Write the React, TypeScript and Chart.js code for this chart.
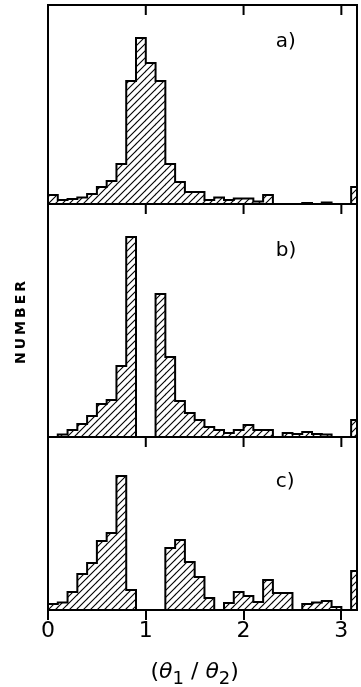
import React, { useEffect, useRef } from 'react';
import { Chart, registerables } from 'chart.js';

Chart.register(...registerables);

// ---- data ----
const BIN_CENTERS = [
  0.05, 0.15, 0.25, 0.35, 0.45, 0.55, 0.65, 0.75, 0.85, 0.95,
  1.05, 1.15, 1.25, 1.35, 1.45, 1.55, 1.65, 1.75, 1.85, 1.95,
  2.05, 2.15, 2.25, 2.35, 2.45, 2.55, 2.65, 2.75, 2.85, 2.95,
  3.05, 3.15,
];

const PANEL_A = [
  9, 4, 5, 6.5, 10, 17, 23, 40, 123, 166,
  141, 123, 40, 22, 12, 12, 4, 6.5, 4, 5.5,
  5.5, 2.5, 9, 0, 0, 0, 1, 0, 1.5, 0,
  0, 17,
];

const PANEL_B = [
  0, 2.5, 7, 13, 21, 33, 37, 71, 200, 0,
  0, 143, 80, 36, 24, 17, 10, 7, 4, 7,
  12, 7, 7, 0, 4, 3, 5, 3, 2.5, 0,
  0, 17,
];

const PANEL_C = [
  6, 7.5, 18, 36, 47, 69, 77, 134, 20, 0,
  0, 0, 62, 70, 48, 33, 12, 0, 7, 18,
  14, 8, 30, 17, 17, 0, 6, 7.5, 9, 3,
  0, 39,
];

const PANEL_MAX = [199, 233, 173];
const PANEL_LABELS = ['a)', 'b)', 'c)'];
const LABEL_X = 2.33;
const LABEL_Y = [162, 186, 128];
const X_TICKS = [0, 1, 2, 3];
const X_MAX = 3.16;
const Y_TITLE = 'NUMBER';

const FONT = '"DejaVu Sans", sans-serif';

function makeHatch(): CanvasPattern {
  const s = 7;
  const c = document.createElement('canvas');
  c.width = s;
  c.height = s;
  const g = c.getContext('2d')!;
  g.strokeStyle = '#000';
  g.lineWidth = 1.1;
  g.beginPath();
  g.moveTo(-1, s + 1);
  g.lineTo(s + 1, -1);
  g.moveTo(-1, 1);
  g.lineTo(1, -1);
  g.moveTo(s - 1, s + 1);
  g.lineTo(s + 1, s - 1);
  g.stroke();
  return g.createPattern(c, 'repeat')!;
}

const PANEL_IDS = ['ya', 'yb', 'yc'];

const framePlugin = {
  id: 'frames',
  afterDatasetsDraw(chart: any) {
    const { ctx, chartArea } = chart;
    const xs = chart.scales.x;
    const { left, right, top, bottom } = chartArea;
    ctx.save();
    ctx.strokeStyle = '#000';
    ctx.lineWidth = 2;
    ctx.lineCap = 'square';
    // outer frame
    ctx.beginPath();
    ctx.moveTo(left, top);
    ctx.lineTo(right, top);
    ctx.moveTo(right, top);
    ctx.lineTo(right, bottom);
    ctx.moveTo(left, top);
    ctx.lineTo(left, bottom);
    ctx.stroke();
    ctx.lineCap = 'butt';
    // inward ticks at top
    ctx.beginPath();
    X_TICKS.forEach((v) => {
      const px = xs.getPixelForValue(v);
      ctx.moveTo(px, top);
      ctx.lineTo(px, top + 10);
    });
    ctx.stroke();
    // panel separators with ticks hanging down
    ['ya', 'yb'].forEach((id) => {
      const s = chart.scales[id];
      const y0 = s.getPixelForValue(0);
      ctx.beginPath();
      ctx.moveTo(left, y0);
      ctx.lineTo(right, y0);
      X_TICKS.forEach((v) => {
        const px = xs.getPixelForValue(v);
        ctx.moveTo(px, y0);
        ctx.lineTo(px, y0 + 10);
      });
      ctx.stroke();
    });
    // panel labels
    ctx.fillStyle = '#000';
    ctx.font = `20px ${FONT}`;
    ctx.textAlign = 'left';
    ctx.textBaseline = 'middle';
    PANEL_IDS.forEach((id, i) => {
      const s = chart.scales[id];
      ctx.fillText(PANEL_LABELS[i], xs.getPixelForValue(LABEL_X), s.getPixelForValue(LABEL_Y[i]));
    });
    // y title
    const yb = chart.scales.yb;
    ctx.save();
    ctx.translate(left - 27, (yb.top + yb.bottom) / 2 + 2);
    ctx.rotate(-Math.PI / 2);
    ctx.font = `bold 14px ${FONT}`;
    (ctx as any).letterSpacing = '3px';
    ctx.textAlign = 'center';
    ctx.textBaseline = 'middle';
    ctx.fillText(Y_TITLE, 1.5, 0);
    ctx.restore();
    // x title: (θ1 / θ2)
    const segs = [
      { t: '(', f: `22px ${FONT}`, dy: 0 },
      { t: 'θ', f: `italic 22px ${FONT}`, dy: 0 },
      { t: '1', f: `18px ${FONT}`, dy: 6 },
      { t: ' / ', f: `22px ${FONT}`, dy: 0 },
      { t: 'θ', f: `italic 22px ${FONT}`, dy: 0 },
      { t: '2', f: `18px ${FONT}`, dy: 6 },
      { t: ')', f: `22px ${FONT}`, dy: 0 },
    ];
    let total = 0;
    const widths = segs.map((sg) => {
      ctx.font = sg.f;
      const w = ctx.measureText(sg.t).width;
      total += w;
      return w;
    });
    let cx = xs.getPixelForValue(1.5) - total / 2;
    const base = bottom + 68;
    ctx.textAlign = 'left';
    ctx.textBaseline = 'alphabetic';
    segs.forEach((sg, i) => {
      ctx.font = sg.f;
      ctx.fillText(sg.t, cx, base + sg.dy);
      cx += widths[i];
    });
    ctx.restore();
  },
};

export default function App() {
  const ref = useRef<HTMLCanvasElement>(null);

  useEffect(() => {
    document.body.style.margin = '0';
    const hatch = makeHatch();
    const series = [PANEL_A, PANEL_B, PANEL_C];
    const half = (BIN_CENTERS[1] - BIN_CENTERS[0]) / 2;
    const datasets: any[] = [];
    series.forEach((vals, i) => {
      const pts = BIN_CENTERS.map((x, k) => ({ x, y: vals[k] }));
      datasets.push({
        type: 'line',
        data: [
          { x: BIN_CENTERS[0] - half, y: vals[0] },
          ...pts,
          { x: BIN_CENTERS[BIN_CENTERS.length - 1] + half, y: vals[vals.length - 1] },
        ],
        yAxisID: PANEL_IDS[i],
        stepped: 'middle',
        borderColor: '#000',
        borderWidth: 2,
        pointRadius: 0,
        fill: false,
        order: 0,
      });
      datasets.push({
        type: 'bar',
        data: pts,
        yAxisID: PANEL_IDS[i],
        backgroundColor: hatch,
        borderWidth: 0,
        grouped: false,
        categoryPercentage: 1,
        barPercentage: 1,
        order: 1,
      });
    });

    const yScale = (i: number) => ({
      type: 'linear',
      position: 'left',
      stack: 'panels',
      stackWeight: PANEL_MAX[i],
      min: 0,
      max: PANEL_MAX[i],
      ticks: { display: false },
      grid: { display: false, drawTicks: false },
      border: { display: true, color: '#000', width: 2 },
    });

    const chart = new Chart(ref.current!, {
      type: 'bar',
      data: { datasets },
      options: {
        animation: false,
        responsive: true,
        maintainAspectRatio: false,
        devicePixelRatio: 1,
        layout: { padding: { left: 48, right: 4, top: 5, bottom: 0 } },
        plugins: { legend: { display: false }, tooltip: { enabled: false } },
        scales: {
          x: {
            type: 'linear',
            min: 0,
            max: X_MAX,
            offset: false,
            z: 1,
            afterBuildTicks: (s: any) => {
              s.ticks = X_TICKS.map((v) => ({ value: v }));
            },
            afterFit: (s: any) => {
              s.height = 77;
            },
            ticks: {
              color: '#000',
              font: { family: 'DejaVu Sans', size: 22, lineHeight: 1 },
              padding: 0,
              maxRotation: 0,
            },
            grid: {
              display: true,
              offset: false,
              drawOnChartArea: false,
              drawTicks: true,
              tickLength: 10,
              color: '#000',
              lineWidth: 2,
            },
            border: { display: true, color: '#000', width: 2 },
          },
          yc: yScale(2),
          yb: yScale(1),
          ya: yScale(0),
        } as any,
      },
      plugins: [framePlugin],
    } as any);
    return () => chart.destroy();
  }, []);

  return (
    <div style={{ position: 'relative', width: 361, height: 687 }}>
      <canvas ref={ref} />
    </div>
  );
}
